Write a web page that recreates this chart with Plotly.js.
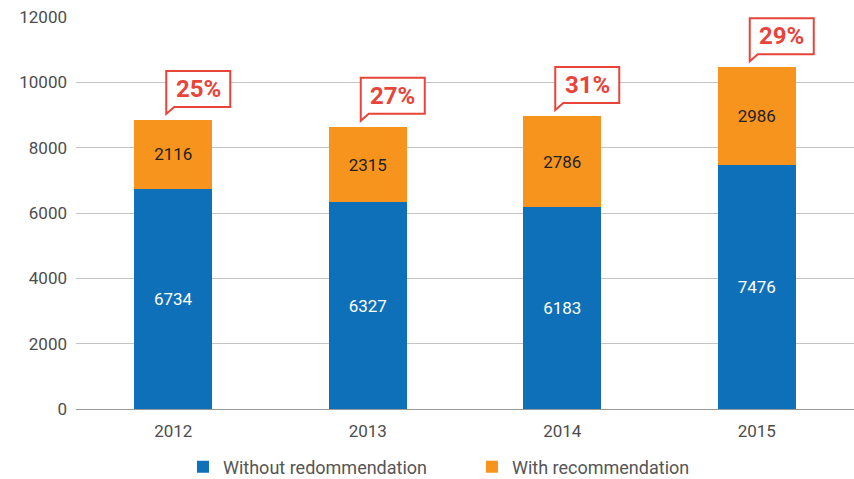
<!DOCTYPE html>
<html><head><meta charset="utf-8">
<script src="https://cdn.plot.ly/plotly-3.0.1.min.js"></script>
<style>html,body{margin:0;padding:0;background:#fff}#chart{width:854px;height:479px}</style>
</head><body><div id="chart"></div>
<script>
const years = ['2012','2013','2014','2015'];
const withoutRec = [6734, 6327, 6183, 7476];
const withRec = [2116, 2315, 2786, 2986];
const shares = ['25%','27%','31%','29%'];
const seriesNames = ['Without redommendation','With recommendation'];

const idx = years.map((_, i) => i);
const totals = withoutRec.map((v, i) => v + withRec[i]);
const font = 'Roboto, "DejaVu Sans", sans-serif';

const traces = [
  {type:'bar', x: idx, y: withoutRec, name: seriesNames[0], marker:{color:'#0F70BA'},
   text: withoutRec.map(String), textposition:'inside', insidetextanchor:'middle',
   textfont:{color:'#ffffff', size:17, family:font}, hoverinfo:'none'},
  {type:'bar', x: idx, y: withRec, name: seriesNames[1], marker:{color:'#F7941D'},
   text: withRec.map(String), textposition:'inside', insidetextanchor:'middle',
   textfont:{color:'#222222', size:17, family:font}, hoverinfo:'none'}
];

const shapes = idx.map(i => ({
  type:'path', xref:'x', yref:'y', xsizemode:'pixel', ysizemode:'pixel',
  xanchor: i, yanchor: totals[i],
  path: 'M -7 13 L -7 49 L 57 49 L 57 13 L 1 13 L -7 6 Z',
  fillcolor:'#ffffff', line:{color:'#E8443A', width:2}, layer:'above'
}));

const annotations = idx.map(i => ({
  x: i, y: totals[i], xref:'x', yref:'y', text: '<b>' + shares[i] + '</b>',
  showarrow:false, xshift:25, yshift:31, xanchor:'center', yanchor:'middle',
  font:{color:'#E8443A', size:24, family:font}
}));

const layout = {
  width:854, height:479,
  margin:{l:76, r:0, t:17, b:70, autoexpand:false},
  paper_bgcolor:'#ffffff', plot_bgcolor:'#ffffff',
  barmode:'stack', bargap:0.6,
  showlegend:true,
  legend:{orientation:'h', x:0.1375, xanchor:'left', yref:'container', y:0.025, yanchor:'middle',
    font:{size:18, color:'#555555', family:font}, itemwidth:30, tracegroupgap:0,
    entrywidth:244, entrywidthmode:'pixels', traceorder:'normal'},
  xaxis:{tickvals: idx, ticktext: years, range:[-0.5, 3.5], showgrid:false,
    showline:false, zeroline:false, ticks:'', ticklabelstandoff:10,
    tickfont:{size:17, color:'#4d4d4d', family:font}},
  yaxis:{range:[0,12000], tickvals:[0,2000,4000,6000,8000,10000,12000], tickformat:'d',
    showgrid:true, gridcolor:'#c4c4c4', gridwidth:1, zeroline:true, zerolinecolor:'#999999',
    zerolinewidth:1, ticks:'', ticklabelstandoff:8,
    tickfont:{size:17, color:'#4d4d4d', family:font}},
  shapes: shapes,
  annotations: annotations,
  font:{family:font}
};

Plotly.newPlot('chart', traces, layout, {displayModeBar:false, staticPlot:true});
</script>
</body></html>
